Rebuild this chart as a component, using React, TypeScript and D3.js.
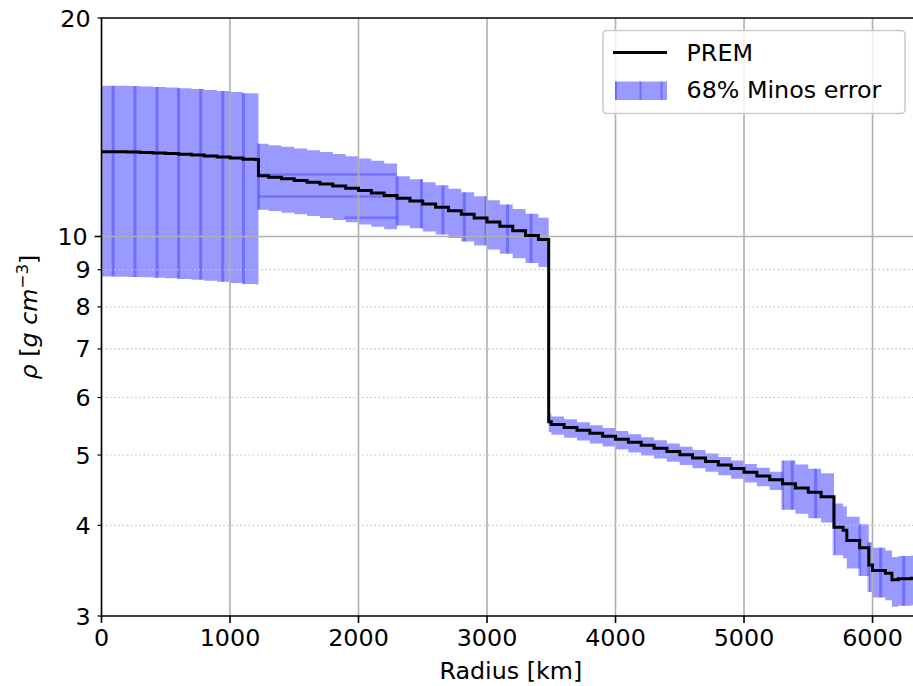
import React from "react";
import * as d3 from "d3";

// ---------- data ----------
const radius = [0, 100, 200, 300, 400, 500, 600, 700, 800, 900, 1000, 1100, 1200, 1221.5,
  1300, 1400, 1500, 1600, 1700, 1800, 1900, 2000, 2100, 2200, 2300,
  2400, 2500, 2600, 2700, 2800, 2900, 3000, 3100, 3200, 3300, 3400, 3480,
  3500, 3600, 3700, 3800, 3900, 4000, 4100, 4200, 4300, 4400, 4500, 4600, 4700, 4800, 4900, 5000, 5100, 5200, 5300,
  5400, 5500, 5600, 5700,
  5771, 5800, 5900, 5971,
  6000, 6100, 6151, 6200, 6291, 6300, 6371];

const prem = [13.089, 13.086, 13.080, 13.069, 13.054, 13.034, 13.010, 12.982, 12.949, 12.912, 12.871, 12.825, 12.775, 12.764,
  12.125, 12.069, 12.010, 11.947, 11.880, 11.809, 11.734, 11.655, 11.571, 11.483, 11.390,
  11.293, 11.191, 11.083, 10.971, 10.853, 10.730, 10.602, 10.467, 10.327, 10.181, 10.029, 9.903,
  5.556, 5.506, 5.457, 5.407, 5.357, 5.307, 5.257, 5.207, 5.157, 5.106, 5.055, 5.003, 4.951, 4.898, 4.844, 4.790, 4.735, 4.679, 4.621,
  4.563, 4.504, 4.443, 4.381,
  3.976, 3.939, 3.813, 3.724,
  3.526, 3.466, 3.436, 3.365, 3.375, 3.376, 3.381];

const lower = [8.809, 8.807, 8.803, 8.795, 8.785, 8.772, 8.756, 8.737, 8.715, 8.690, 8.662, 8.631, 8.598, 8.590,
  10.888, 10.838, 10.785, 10.728, 10.668, 10.605, 10.537, 10.466, 10.391, 10.312, 10.229,
  10.356, 10.262, 10.163, 10.060, 9.952, 9.839, 9.722, 9.598, 9.470, 9.336, 9.197, 9.081,
  5.379, 5.330, 5.282, 5.234, 5.186, 5.137, 5.089, 5.040, 4.992, 4.943, 4.893, 4.843, 4.792, 4.741, 4.689, 4.637, 4.583, 4.529, 4.473,
  4.203, 4.148, 4.092, 4.035,
  3.638, 3.604, 3.489, 3.407,
  3.237, 3.182, 3.154, 3.089, 3.098, 3.099, 3.103];

const upper = [16.138, 16.135, 16.127, 16.114, 16.095, 16.071, 16.041, 16.006, 15.966, 15.921, 15.870, 15.813, 15.751, 15.737,
  13.422, 13.361, 13.295, 13.225, 13.151, 13.073, 12.990, 12.902, 12.809, 12.712, 12.609,
  12.106, 11.996, 11.881, 11.761, 11.635, 11.503, 11.365, 11.221, 11.071, 10.914, 10.752, 10.616,
  5.701, 5.650, 5.598, 5.547, 5.496, 5.445, 5.394, 5.342, 5.291, 5.239, 5.186, 5.133, 5.079, 5.025, 4.970, 4.914, 4.858, 4.800, 4.741,
  4.914, 4.851, 4.785, 4.719,
  4.286, 4.247, 4.111, 4.014,
  3.790, 3.726, 3.693, 3.617, 3.628, 3.629, 3.634];

// radii where the error polygons overlap (darker vertical seams)
const seamRadii = [90, 261, 432, 600, 772, 943, 1105, 1221.5, 2300, 2490, 2657, 2824, 2992, 3160, 3343,
  5300, 5375, 5557, 5700, 5900, 5971, 6063, 6243];

// darker horizontal seams inside the first outer-core shell
const hSeamStart = [1221.5, 1221.5, 1890];
const hSeamEnd = [2300, 2300, 2300];
const hSeamRho = [12.17, 11.35, 10.61];

const xTicks = [0, 1000, 2000, 3000, 4000, 5000, 6000];
const yMajorTicks = [10];
const yMinorTicks = [3, 4, 5, 6, 7, 8, 9, 20];
const xDomain = [0, 6371];
const yDomain = [3, 20];
const legendLabels = ["PREM", "68% Minos error"];

// ---------- layout ----------
const W = 913, H = 686;
const L = 101.5, R = 920.2, T = 18, B = 616;
const FS = 23.8;
const FONT = "DejaVu Sans";

export default function App() {
  const x = d3.scaleLinear().domain(xDomain).range([L, R]);
  const y = d3.scaleLog().domain(yDomain).range([B, T]);

  const area = d3.area<number>()
    .x((_, i) => x(radius[i]))
    .y0((_, i) => y(lower[i]))
    .y1((_, i) => y(upper[i]))
    .curve(d3.curveStepBefore);
  const line = d3.line<number>()
    .x((_, i) => x(radius[i]))
    .y((_, i) => y(prem[i]))
    .curve(d3.curveStepBefore);

  const bandPath = area(radius) || "";
  const linePath = line(radius) || "";

  const seams = seamRadii.map((r) => {
    let idx = radius.findIndex((v) => v > r);
    if (idx < 0) idx = radius.length - 1;
    return { x: x(r), y0: y(upper[idx]), y1: y(lower[idx]) };
  });

  const blue = "rgba(0,0,255,0.4)";
  const seamFill = "rgba(0,0,255,0.27)";

  return (
    <svg width={W} height={H} style={{ position: "absolute", left: 0, top: 0, background: "#fff" }}
      fontFamily={FONT}>
      <rect x={0} y={0} width={W} height={H} fill="#fff" />
      <defs>
        <clipPath id="plot">
          <rect x={L} y={T} width={R - L} height={B - T} />
        </clipPath>
      </defs>
      <g clipPath="url(#plot)">
        <path d={bandPath} fill={blue} stroke="none" />
        {seams.map((s, i) => (
          <rect key={"s" + i} x={s.x - 1.5} y={s.y0} width={3} height={s.y1 - s.y0} fill={seamFill} />
        ))}
        {hSeamRho.map((rho, i) => (
          <line key={"h" + i} x1={x(hSeamStart[i])} x2={x(hSeamEnd[i])} y1={y(rho)} y2={y(rho)}
            stroke="rgba(0,0,255,0.25)" strokeWidth={2.5} />
        ))}
        {/* grid */}
        {xTicks.map((t) => (
          <line key={"gx" + t} x1={x(t)} x2={x(t)} y1={T} y2={B} stroke="#b0b0b0" strokeWidth={1.6} />
        ))}
        {yMajorTicks.map((t) => (
          <line key={"gy" + t} x1={L} x2={R} y1={y(t)} y2={y(t)} stroke="#b0b0b0" strokeWidth={1.6} />
        ))}
        {yMinorTicks.map((t) => (
          <line key={"gm" + t} x1={L} x2={R} y1={y(t)} y2={y(t)} stroke="#c4c4c4" strokeWidth={1.2}
            strokeDasharray="1.6,2.6" />
        ))}
        <path d={linePath} fill="none" stroke="#000" strokeWidth={3} />
      </g>

      {/* spines */}
      <line x1={L} x2={L} y1={T} y2={B} stroke="#000" strokeWidth={1.6} />
      <line x1={L - 0.8} x2={W} y1={B} y2={B} stroke="#000" strokeWidth={1.6} />
      <line x1={L - 0.8} x2={W} y1={T} y2={T} stroke="#000" strokeWidth={1.6} />

      {/* x ticks */}
      {xTicks.map((t) => (
        <g key={"xt" + t}>
          <line x1={x(t)} x2={x(t)} y1={B} y2={B + 6.9} stroke="#000" strokeWidth={1.6} />
          <text x={x(t)} y={646} textAnchor="middle" fontSize={FS} fill="#000">{t}</text>
        </g>
      ))}
      {/* y ticks */}
      {yMajorTicks.map((t) => (
        <g key={"yt" + t}>
          <line x1={L - 6.9} x2={L} y1={y(t)} y2={y(t)} stroke="#000" strokeWidth={1.6} />
          <text x={L - 13.8} y={y(t)} dy="0.36em" textAnchor="end" fontSize={FS} fill="#000">{t}</text>
        </g>
      ))}
      {yMinorTicks.map((t) => (
        <g key={"ym" + t}>
          <line x1={L - 4} x2={L} y1={y(t)} y2={y(t)} stroke="#000" strokeWidth={1.2} />
          <text x={L - 10.9} y={y(t)} dy="0.36em" textAnchor="end" fontSize={FS} fill="#000">{t}</text>
        </g>
      ))}

      {/* axis labels */}
      <text x={(L + R) / 2} y={679} textAnchor="middle" fontSize={FS} fill="#000">Radius [km]</text>
      <text transform={`translate(37,${(T + B) / 2}) rotate(-90)`} textAnchor="middle" fontSize={FS} fill="#000">
        <tspan fontStyle="italic">ρ</tspan>
        <tspan> [</tspan>
        <tspan fontStyle="italic">g</tspan>
        <tspan> </tspan>
        <tspan fontStyle="italic">cm</tspan>
        <tspan dy={-9} fontSize={16.7}>−3</tspan>
        <tspan dy={9}>]</tspan>
      </text>

      {/* legend */}
      <g>
        <rect x={603} y={30.5} width={302} height={83} rx={4} fill="#fff" fillOpacity={0.8}
          stroke="#cccccc" strokeWidth={1.6} />
        <line x1={613} x2={667} y1={52.5} y2={52.5} stroke="#000" strokeWidth={3} />
        <text x={686.5} y={61} fontSize={FS} fill="#000">{legendLabels[0]}</text>
        <rect x={615} y={81.5} width={52} height={18.5} fill={blue} />
        {[615, 639.5, 660.5].map((px, i) => (
          <rect key={"lp" + i} x={px} y={81.5} width={2} height={18.5} fill={seamFill} />
        ))}
        <text x={686.5} y={98} fontSize={FS} fill="#000">{legendLabels[1]}</text>
      </g>
    </svg>
  );
}
